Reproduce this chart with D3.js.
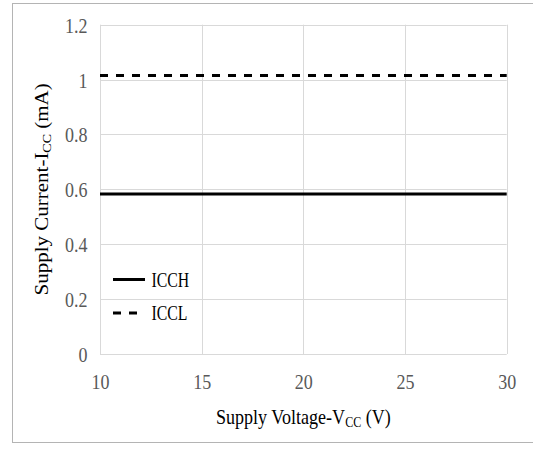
<!DOCTYPE html>
<html><head><meta charset="utf-8">
<script src="https://cdn.jsdelivr.net/npm/d3@7"></script>
<style>
html,body{margin:0;padding:0;background:#fff;}
svg{display:block;}
</style></head>
<body>
<svg id="c" width="533" height="453"></svg>
<script>
const xTicks = [10, 15, 20, 25, 30];
const yTicks = [0, 0.2, 0.4, 0.6, 0.8, 1, 1.2];
const yTickLabels = ["0", "0.2", "0.4", "0.6", "0.8", "1", "1.2"];
const seriesNames = ["ICCH", "ICCL"];
const voltage = [10, 15, 20, 25, 30];
const icch = [0.583, 0.583, 0.583, 0.583, 0.583];
const iccl = [1.015, 1.015, 1.015, 1.015, 1.015];

const svg = d3.select("#c");
const W = 533, H = 453;
const m = {left: 100, right: 533 - 506.7, top: 24.7, bottom: 453 - 354};
const x = d3.scaleLinear().domain([10, 30]).range([m.left, W - m.right]);
const y = d3.scaleLinear().domain([0, 1.2]).range([H - m.bottom, m.top]);
const serif = "'Liberation Serif', 'Times New Roman', serif";

// outer border
svg.append("rect").attr("x", 12.5).attr("y", 3.5).attr("width", 540).attr("height", 439)
  .attr("fill", "none").attr("stroke", "#b4b4b4").attr("stroke-width", 1);

// gridlines
const g = svg.append("g");
g.selectAll("line.h").data(yTicks).join("line")
  .attr("x1", x(10)).attr("x2", x(30))
  .attr("y1", d => Math.round(y(d)) + 0.5).attr("y2", d => Math.round(y(d)) + 0.5)
  .attr("stroke", "#d9d9d9").attr("stroke-width", 1);
g.selectAll("line.v").data(xTicks).join("line")
  .attr("y1", y(0)).attr("y2", y(1.2))
  .attr("x1", d => Math.round(x(d)) + 0.5).attr("x2", d => Math.round(x(d)) + 0.5)
  .attr("stroke", "#d9d9d9").attr("stroke-width", 1);

// axes labels via d3 axes
const tickSx = 0.9;
const xAxis = d3.axisBottom(x).tickValues(xTicks).tickSize(0).tickPadding(0).tickFormat(d3.format("d"));
const xg = svg.append("g").attr("transform", `translate(0,389)`).call(xAxis);
xg.select(".domain").remove();
xg.selectAll("text").attr("y", 0).attr("dy", 0)
  .attr("transform", `scale(${tickSx},1)`)
  .style("font-family", serif).style("font-size", "20px").attr("fill", "#595959");

const yAxis = d3.axisLeft(y).tickValues(yTicks).tickSize(0).tickPadding(0)
  .tickFormat((d, i) => yTickLabels[i]);
const yg = svg.append("g").attr("transform", `translate(87.5,0)`).call(yAxis);
yg.select(".domain").remove();
yg.selectAll("text").attr("x", 0).attr("dy", 7.5)
  .attr("transform", `scale(${tickSx},1)`)
  .style("font-family", serif).style("font-size", "20px").attr("fill", "#595959");

// lines
const line = d3.line().x((d, i) => x(voltage[i])).y(d => y(d));
svg.append("path").datum(icch).attr("d", line).attr("fill", "none")
  .attr("stroke", "#000").attr("stroke-width", 3);
svg.append("path").datum(iccl).attr("d", line).attr("fill", "none")
  .attr("stroke", "#000").attr("stroke-width", 3).attr("stroke-dasharray", "8,8");

// legend
const leg = svg.append("g");
const legY = [279.5, 313];
const legEnd = [145, 137];
const dashes = [null, "8,8"];
seriesNames.forEach((n, i) => {
  leg.append("line").attr("x1", 113).attr("x2", legEnd[i]).attr("y1", legY[i]).attr("y2", legY[i])
    .attr("stroke", "#000").attr("stroke-width", 3).attr("stroke-dasharray", dashes[i]);
  leg.append("text").attr("transform", `translate(151.5,${legY[i] + 7}) scale(0.79,1)`)
    .style("font-family", serif).style("font-size", "20px").attr("fill", "#000").text(n);
});

// axis titles
const xt = svg.append("text").attr("transform", `translate(${x(20)},424) scale(0.86,1)`)
  .attr("text-anchor", "middle")
  .style("font-family", serif).style("font-size", "21px").attr("fill", "#000");
xt.append("tspan").text("Supply Voltage-V");
xt.append("tspan").style("font-size", "14px").attr("dy", 3).text("CC");
xt.append("tspan").attr("dy", -3).text(" (V)");

const yt = svg.append("text").attr("transform", `translate(48,${y(0.6)}) rotate(-90) scale(1,0.86)`)
  .attr("text-anchor", "middle")
  .style("font-family", serif).style("font-size", "21px").attr("fill", "#000");
yt.append("tspan").text("Supply Current-I");
yt.append("tspan").style("font-size", "14px").attr("dy", 3).text("CC");
yt.append("tspan").attr("dy", -3).text(" (mA)");
</script>
</body></html>
